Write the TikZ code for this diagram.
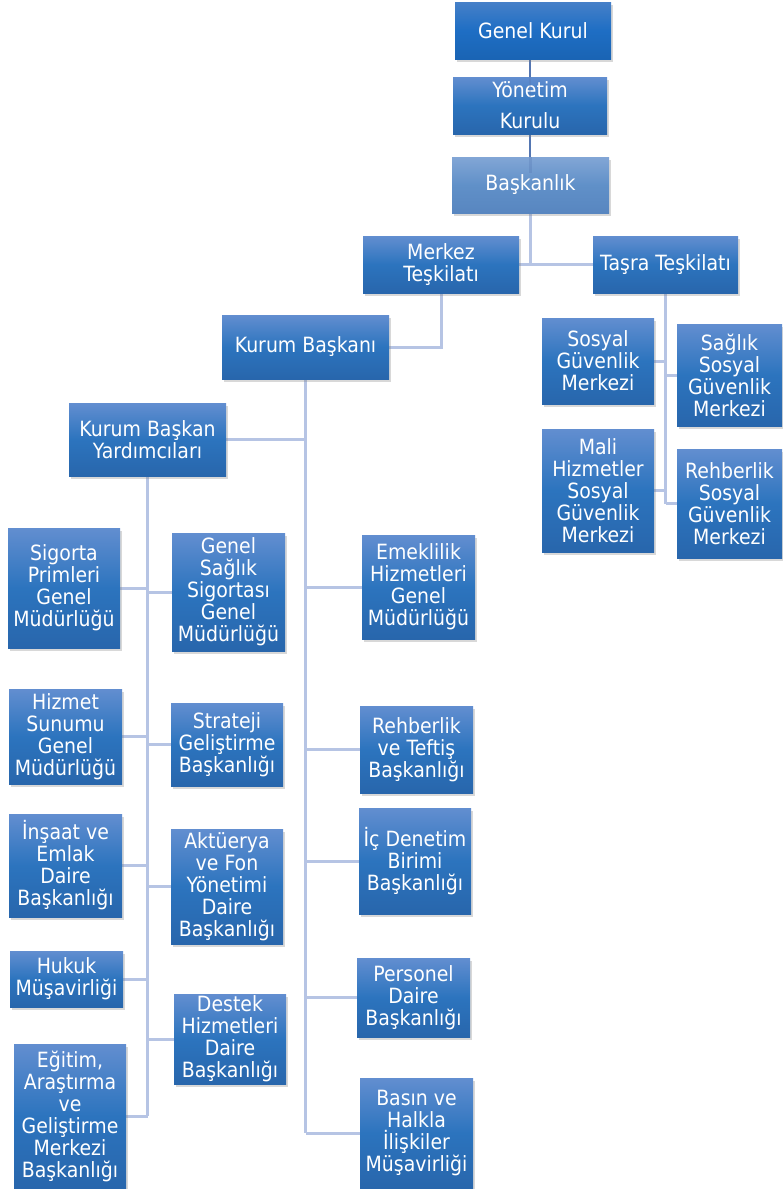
\documentclass[tikz,border=0pt]{standalone}
\usepackage{fontspec}
\setmainfont{DejaVu Sans}[FakeStretch=0.9]
\usetikzlibrary{shadows,backgrounds}
\definecolor{boxtop}{RGB}{98,142,208}
\definecolor{boxmid}{RGB}{44,116,190}
\definecolor{boxbot}{RGB}{40,102,172}
\definecolor{gktop}{RGB}{70,128,200}
\definecolor{gkmid}{RGB}{30,110,196}
\definecolor{gkbot}{RGB}{26,100,180}
\definecolor{bktop}{RGB}{130,166,214}
\definecolor{bkmid}{RGB}{96,144,200}
\definecolor{bkbot}{RGB}{88,134,192}
\definecolor{connc}{RGB}{182,196,228}
\definecolor{conntop}{RGB}{84,118,178}
\tikzset{
  box/.style={draw=none, inner sep=0pt, align=center, text=white,
    font=\fontsize{21}{22}\selectfont,
    top color=boxtop, bottom color=boxbot, middle color=boxmid,
    drop shadow={shadow xshift=1.5pt, shadow yshift=-3pt, opacity=0.3}},
  gkbox/.style={top color=gktop, bottom color=gkbot, middle color=gkmid},
  bkbox/.style={top color=bktop, bottom color=bkbot, middle color=bkmid},
  conn/.style={draw=connc, line width=3pt},
  conndark/.style={draw=conntop, line width=2.5pt},
}
\newcommand\orgbox[7][]{\node[box,#1,minimum width={(#4-#2)*1pt},minimum height={(#5-#3)*1pt}] (#6) at ({(#2+#4)/2},{(#3+#5)/2}) {#7};}
\begin{document}
\begin{tikzpicture}[x=1pt,y=-1pt]
\useasboundingbox (0,0) rectangle (782,1189);
% top chain
\orgbox[gkbox]{455}{2}{611}{59}{gk}{Genel Kurul}
\orgbox{453}{77}{607}{134}{yk}{Yönetim\\[9pt]Kurulu}
\orgbox[bkbox]{452}{157}{609}{213}{bk}{Başkanlık}
\orgbox{363}{236}{519}{293}{mt}{Merkez\\Teşkilatı}
\orgbox{593}{236}{738}{293}{tt}{Taşra Teşkilatı}
% tasra
\orgbox{542}{318}{654}{404}{sgm}{Sosyal\\Güvenlik\\Merkezi}
\orgbox{677}{324}{782}{426}{ssgm}{Sağlık\\Sosyal\\Güvenlik\\Merkezi}
\orgbox{542}{429}{654}{552}{msgm}{Mali\\Hizmetler\\Sosyal\\Güvenlik\\Merkezi}
\orgbox{677}{449}{782}{558}{rsgm}{Rehberlik\\Sosyal\\Güvenlik\\Merkezi}
% merkez
\orgbox{222}{315}{389}{379}{kb}{Kurum Başkanı}
\orgbox{69}{403}{226}{476}{kby}{Kurum Başkan\\Yardımcıları}
% right column of kb
\orgbox{362}{535}{475}{639}{ehg}{Emeklilik\\Hizmetleri\\Genel\\Müdürlüğü}
\orgbox{360}{706}{473}{793}{rtb}{Rehberlik\\ve Teftiş\\Başkanlığı}
\orgbox{359}{808}{471}{914}{idb}{İç Denetim\\Birimi\\Başkanlığı}
\orgbox{357}{958}{470}{1037}{pdb}{Personel\\Daire\\Başkanlığı}
\orgbox{360}{1078}{473}{1188}{bhm}{Basın ve\\Halkla\\İlişkiler\\Müşavirliği}
% kby left children
\orgbox{8}{528}{120}{648}{spg}{Sigorta\\Primleri\\Genel\\Müdürlüğü}
\orgbox{9}{689}{122}{784}{hsg}{Hizmet\\Sunumu\\Genel\\Müdürlüğü}
\orgbox{9}{814}{122}{917}{ieb}{İnşaat ve\\Emlak\\Daire\\Başkanlığı}
\orgbox{10}{951}{123}{1007}{hm}{Hukuk\\Müşavirliği}
\orgbox{14}{1044}{126}{1188}{eag}{Eğitim,\\Araştırma\\ve\\Geliştirme\\Merkezi\\Başkanlığı}
% kby right children
\orgbox{172}{533}{285}{651}{gss}{Genel\\Sağlık\\Sigortası\\Genel\\Müdürlüğü}
\orgbox{171}{703}{283}{786}{sgb}{Strateji\\Geliştirme\\Başkanlığı}
\orgbox{171}{829}{283}{944}{afy}{Aktüerya\\ve Fon\\Yönetimi\\Daire\\Başkanlığı}
\orgbox{174}{994}{286}{1084}{dhd}{Destek\\Hizmetleri\\Daire\\Başkanlığı}
% faint part of the top connector seen over the boxes
\draw[conndark, opacity=0.3] (yk.north) -- ([yshift=-20pt]yk.north);
\draw[conndark, opacity=0.3] (bk.north) -- ([yshift=-16pt]bk.north);
\begin{scope}[on background layer]
  \fill[white] (0,0) rectangle (782,1189);
  \draw[conndark] (gk.south -| yk.center) -- (bk.north -| yk.center);
  \draw[conn] (bk.south) -- (bk.south |- mt.east);
  \draw[conn] (mt.east) -- (tt.west);
  \draw[conn] (mt.south) |- (kb.east);
  % tasra
  \draw[conn] (tt.south) -- (tt.south |- rsgm.west);
  \foreach \n in {sgm,msgm}{\draw[conn] (\n.east) -- (tt.south |- \n.east);}
  \foreach \n in {ssgm,rsgm}{\draw[conn] (tt.south |- \n.west) -- (\n.west);}
  % kurum baskani
  \draw[conn] (kb.south) -- (kb.south |- bhm.west);
  \draw[conn] (kby.east) -- (kb.south |- kby.east);
  \foreach \n in {ehg,rtb,idb,pdb,bhm}{\draw[conn] (kb.south |- \n.west) -- (\n.west);}
  % yardimcilar
  \draw[conn] (kby.south) -- (kby.south |- eag.east);
  \foreach \n in {spg,hsg,ieb,hm,eag}{\draw[conn] (\n.east) -- (kby.south |- \n.east);}
  \foreach \n in {gss,sgb,afy,dhd}{\draw[conn] (kby.south |- \n.west) -- (\n.west);}
\end{scope}
\end{tikzpicture}
\end{document}
